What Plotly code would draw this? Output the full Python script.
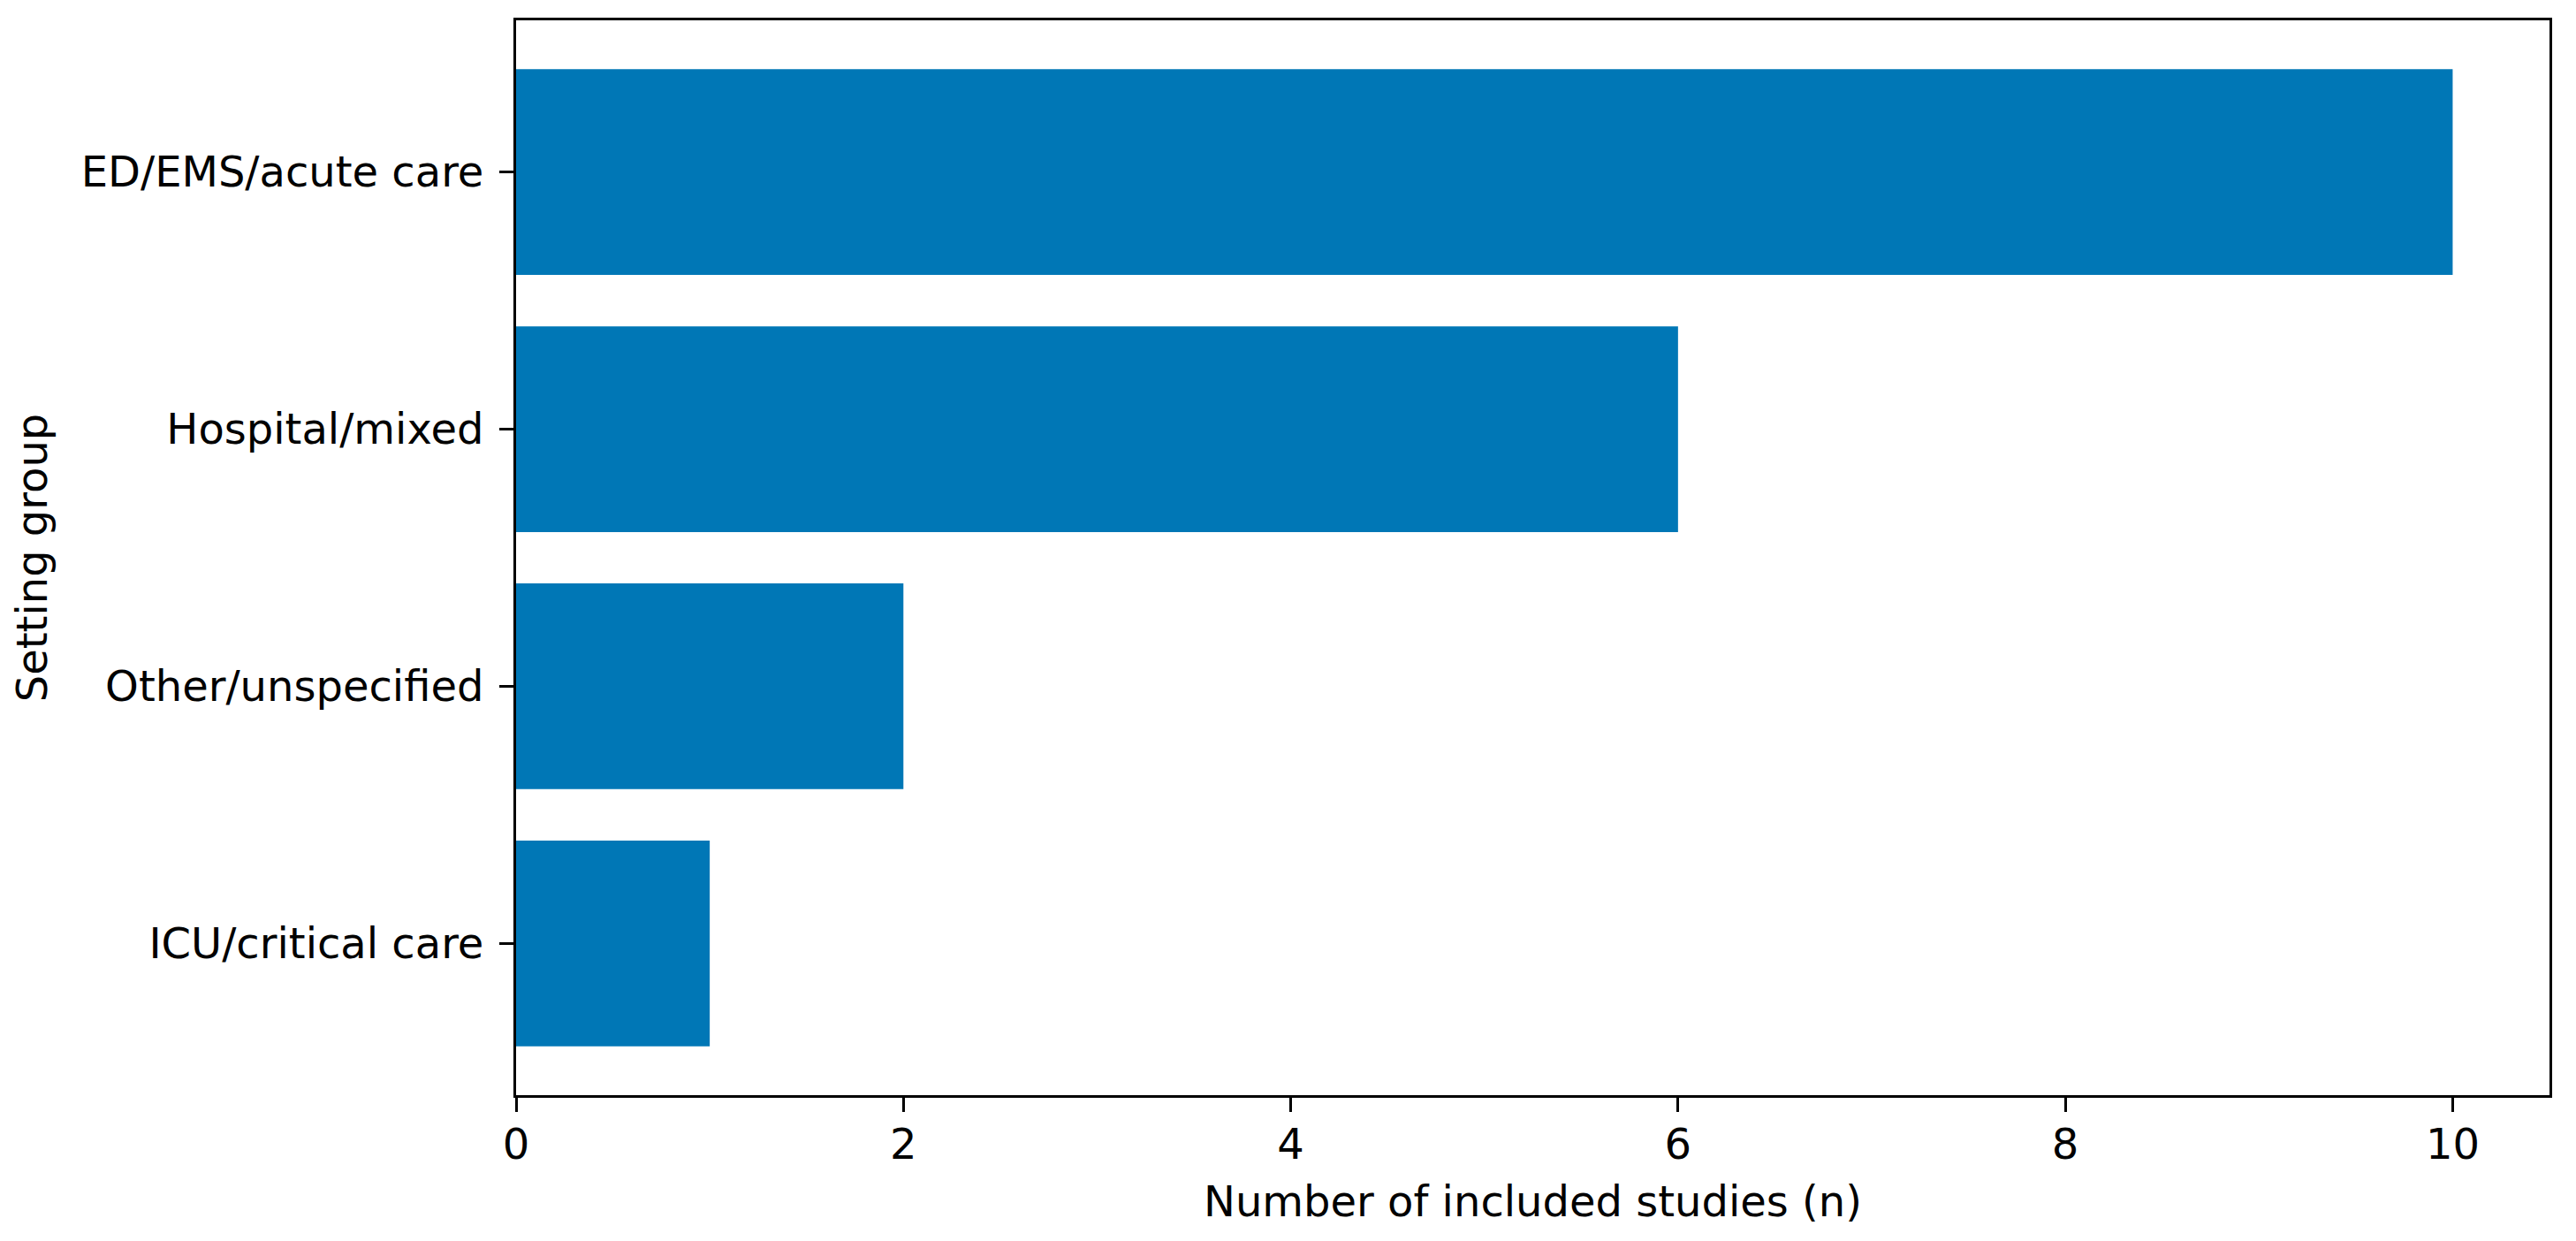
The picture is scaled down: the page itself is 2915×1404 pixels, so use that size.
import plotly.graph_objects as go

# Data (bottom-to-top order on the axis)
categories = ["ICU/critical care", "Other/unspecified", "Hospital/mixed", "ED/EMS/acute care"]
counts = [1, 2, 6, 10]
x_ticks = [0, 2, 4, 6, 8, 10]

BAR_COLOR = "#0077B6"
FONT = "DejaVu Sans"

fig = go.Figure(
    go.Bar(
        x=counts,
        y=categories,
        orientation="h",
        width=0.8,
        marker=dict(color=BAR_COLOR, line=dict(width=0)),
    )
)

# The page body adds an 8px offset, so the figure is 8px smaller and margins shifted.
fig.update_layout(
    width=2907,
    height=1396,
    margin=dict(l=576, r=30, t=15, b=165, autoexpand=False),
    paper_bgcolor="white",
    plot_bgcolor="white",
    font=dict(family=FONT, size=48, color="black"),
    showlegend=False,
)

fig.update_xaxes(
    range=[0, 10.5],
    tickvals=x_ticks,
    ticks="outside",
    ticklen=16,
    tickwidth=3,
    tickcolor="black",
    ticklabelstandoff=-5,
    showline=True,
    linewidth=3,
    linecolor="black",
    mirror=True,
    showgrid=False,
    zeroline=False,
    title=dict(text="Number of included studies (n)", standoff=22, font=dict(size=48)),
)

fig.update_yaxes(
    type="category",
    categoryorder="array",
    categoryarray=categories,
    range=[-0.59, 3.59],
    ticks="outside",
    ticklen=16,
    tickwidth=3,
    tickcolor="black",
    ticklabelstandoff=8,
    showline=True,
    linewidth=3,
    linecolor="black",
    mirror=True,
    showgrid=False,
    zeroline=False,
    title=dict(text="Setting group", standoff=25, font=dict(size=48)),
)

fig.write_html("out.html")
